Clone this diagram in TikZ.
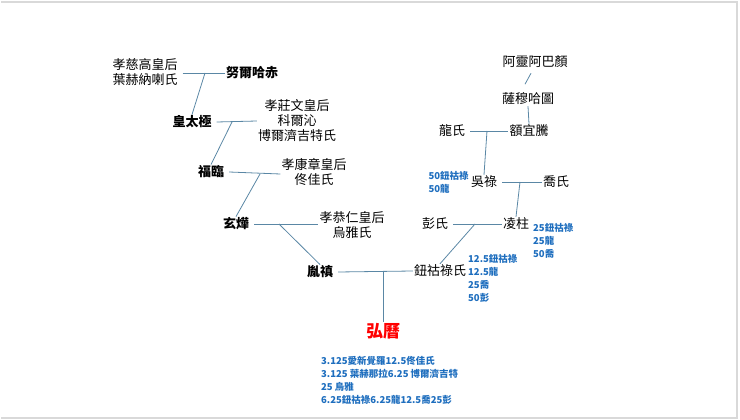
\documentclass[tikz,border=0pt]{standalone}
\usepackage{fontspec}
\setmainfont{Noto Sans CJK TC}
\usetikzlibrary{positioning}
\definecolor{linkblue}{RGB}{90,135,165}
\definecolor{pctblue}{RGB}{30,110,190}
\begin{document}
\begin{tikzpicture}[x=1pt,y=-1pt,inner sep=1pt,
person/.style={font=\fontsize{13}{15}\selectfont,align=center},
ruler/.style={font=\fontsize{13}{15}\selectfont\bfseries},
share/.style={font=\fontsize{9.5}{13}\selectfont\bfseries,text=pctblue,align=left},
link/.style={draw=linkblue,line width=0.8pt}]
\useasboundingbox (0,0) rectangle (740,420);
\draw[black!15,line width=1.5pt] (1,2) -- (737,2) -- (737,418) -- (1,418);

% left branch
\draw (145,72) node[person] (yehe) {孝慈高皇后\\葉赫納喇氏};
\draw (252,73) node[ruler] (nurhaci) {努爾哈赤};
\draw (192,122) node[ruler] (hongtaiji) {皇太極};
\draw (297,121) node[person] (xiaozhuang) {孝莊文皇后\\科爾沁\\博爾濟吉特氏};
\draw (211,172) node[ruler] (fulin) {福臨};
\draw (314,172) node[person] (xiaokang) {孝康章皇后\\佟佳氏};
\draw (236,224) node[ruler] (xuanye) {玄燁};
\draw (352,225) node[person] (xiaogong) {孝恭仁皇后\\烏雅氏};
\draw (320,272) node[ruler] (yinzhen) {胤禛};

% right branch
\draw (535,62) node[person] (alinga) {阿靈阿巴顏};
\draw (528,99) node[person] (samuha) {薩穆哈圖};
\draw (529,131) node[person] (eyiteng) {額宜騰};
\draw (452,131) node[person] (long) {龍氏};
\draw (484,182) node[person] (wulu) {吳祿};
\draw (556,182) node[person] (qiao) {喬氏};
\draw (516,224) node[person] (lingzhu) {凌柱};
\draw (435,224) node[person] (peng) {彭氏};
\draw (440,271) node[person] (niohuru) {鈕祜祿氏};
\draw (383,331) node[font=\fontsize{17}{19}\selectfont\bfseries,text=red] (hongli) {弘曆};

% shares
\node[share,left=0pt of wulu] {50鈕祜祿\\50龍};
\node[share,anchor=north west] at (532,222) {25鈕祜祿\\25龍\\50喬};
\node[share,anchor=north west] at (467,253) {12.5鈕祜祿\\12.5龍\\25喬\\50彭};
\node[share,anchor=north west] at (320,355) {3.125愛新覺羅12.5佟佳氏\\3.125 葉赫那拉6.25 博爾濟吉特\\25 烏雅\\6.25鈕祜祿6.25龍12.5喬25彭};

% links
\coordinate (m1) at (205,73);
\draw[link] (yehe.east|-m1) ++(4,0) -- (nurhaci.west);
\draw[link] (m1) -- (hongtaiji.north);
\coordinate (m2) at (232,122);
\draw[link] (hongtaiji.east) ++(4,0) -- (xiaozhuang.west);
\draw[link] (m2) -- (fulin.north);
\coordinate (m3) at (260,174);
\draw[link] (fulin.east) ++(4,0) -- (xiaokang.west|-m3);
\draw[link] (m3) -- (xuanye.north);
\coordinate (m4) at (279,224);
\draw[link] (xuanye.east) ++(4,0) -- (xiaogong.west|-m4);
\draw[link] (m4) -- (yinzhen.north);
\coordinate (m5) at (383,272);
\draw[link] (yinzhen.east) ++(4,0) -- (niohuru.west);
\draw[link] (m5) -- (hongli.north);

\draw[link] (alinga.south) ++(-4,4) -- ++(-6,11);
\draw[link] (samuha.south) -- (eyiteng.north);
\coordinate (m6) at (487,131);
\draw[link] (long.east) ++(4,0) -- (eyiteng.west);
\draw[link] (m6) -- (wulu.north);
\coordinate (m7) at (520,182);
\draw[link] (wulu.east) ++(4,0) -- (qiao.west);
\draw[link] (m7) -- (lingzhu.north);
\coordinate (m8) at (475,224);
\draw[link] (peng.east) ++(4,0) -- (lingzhu.west);
\draw[link] (m8) -- (niohuru.north);
\end{tikzpicture}
\end{document}
